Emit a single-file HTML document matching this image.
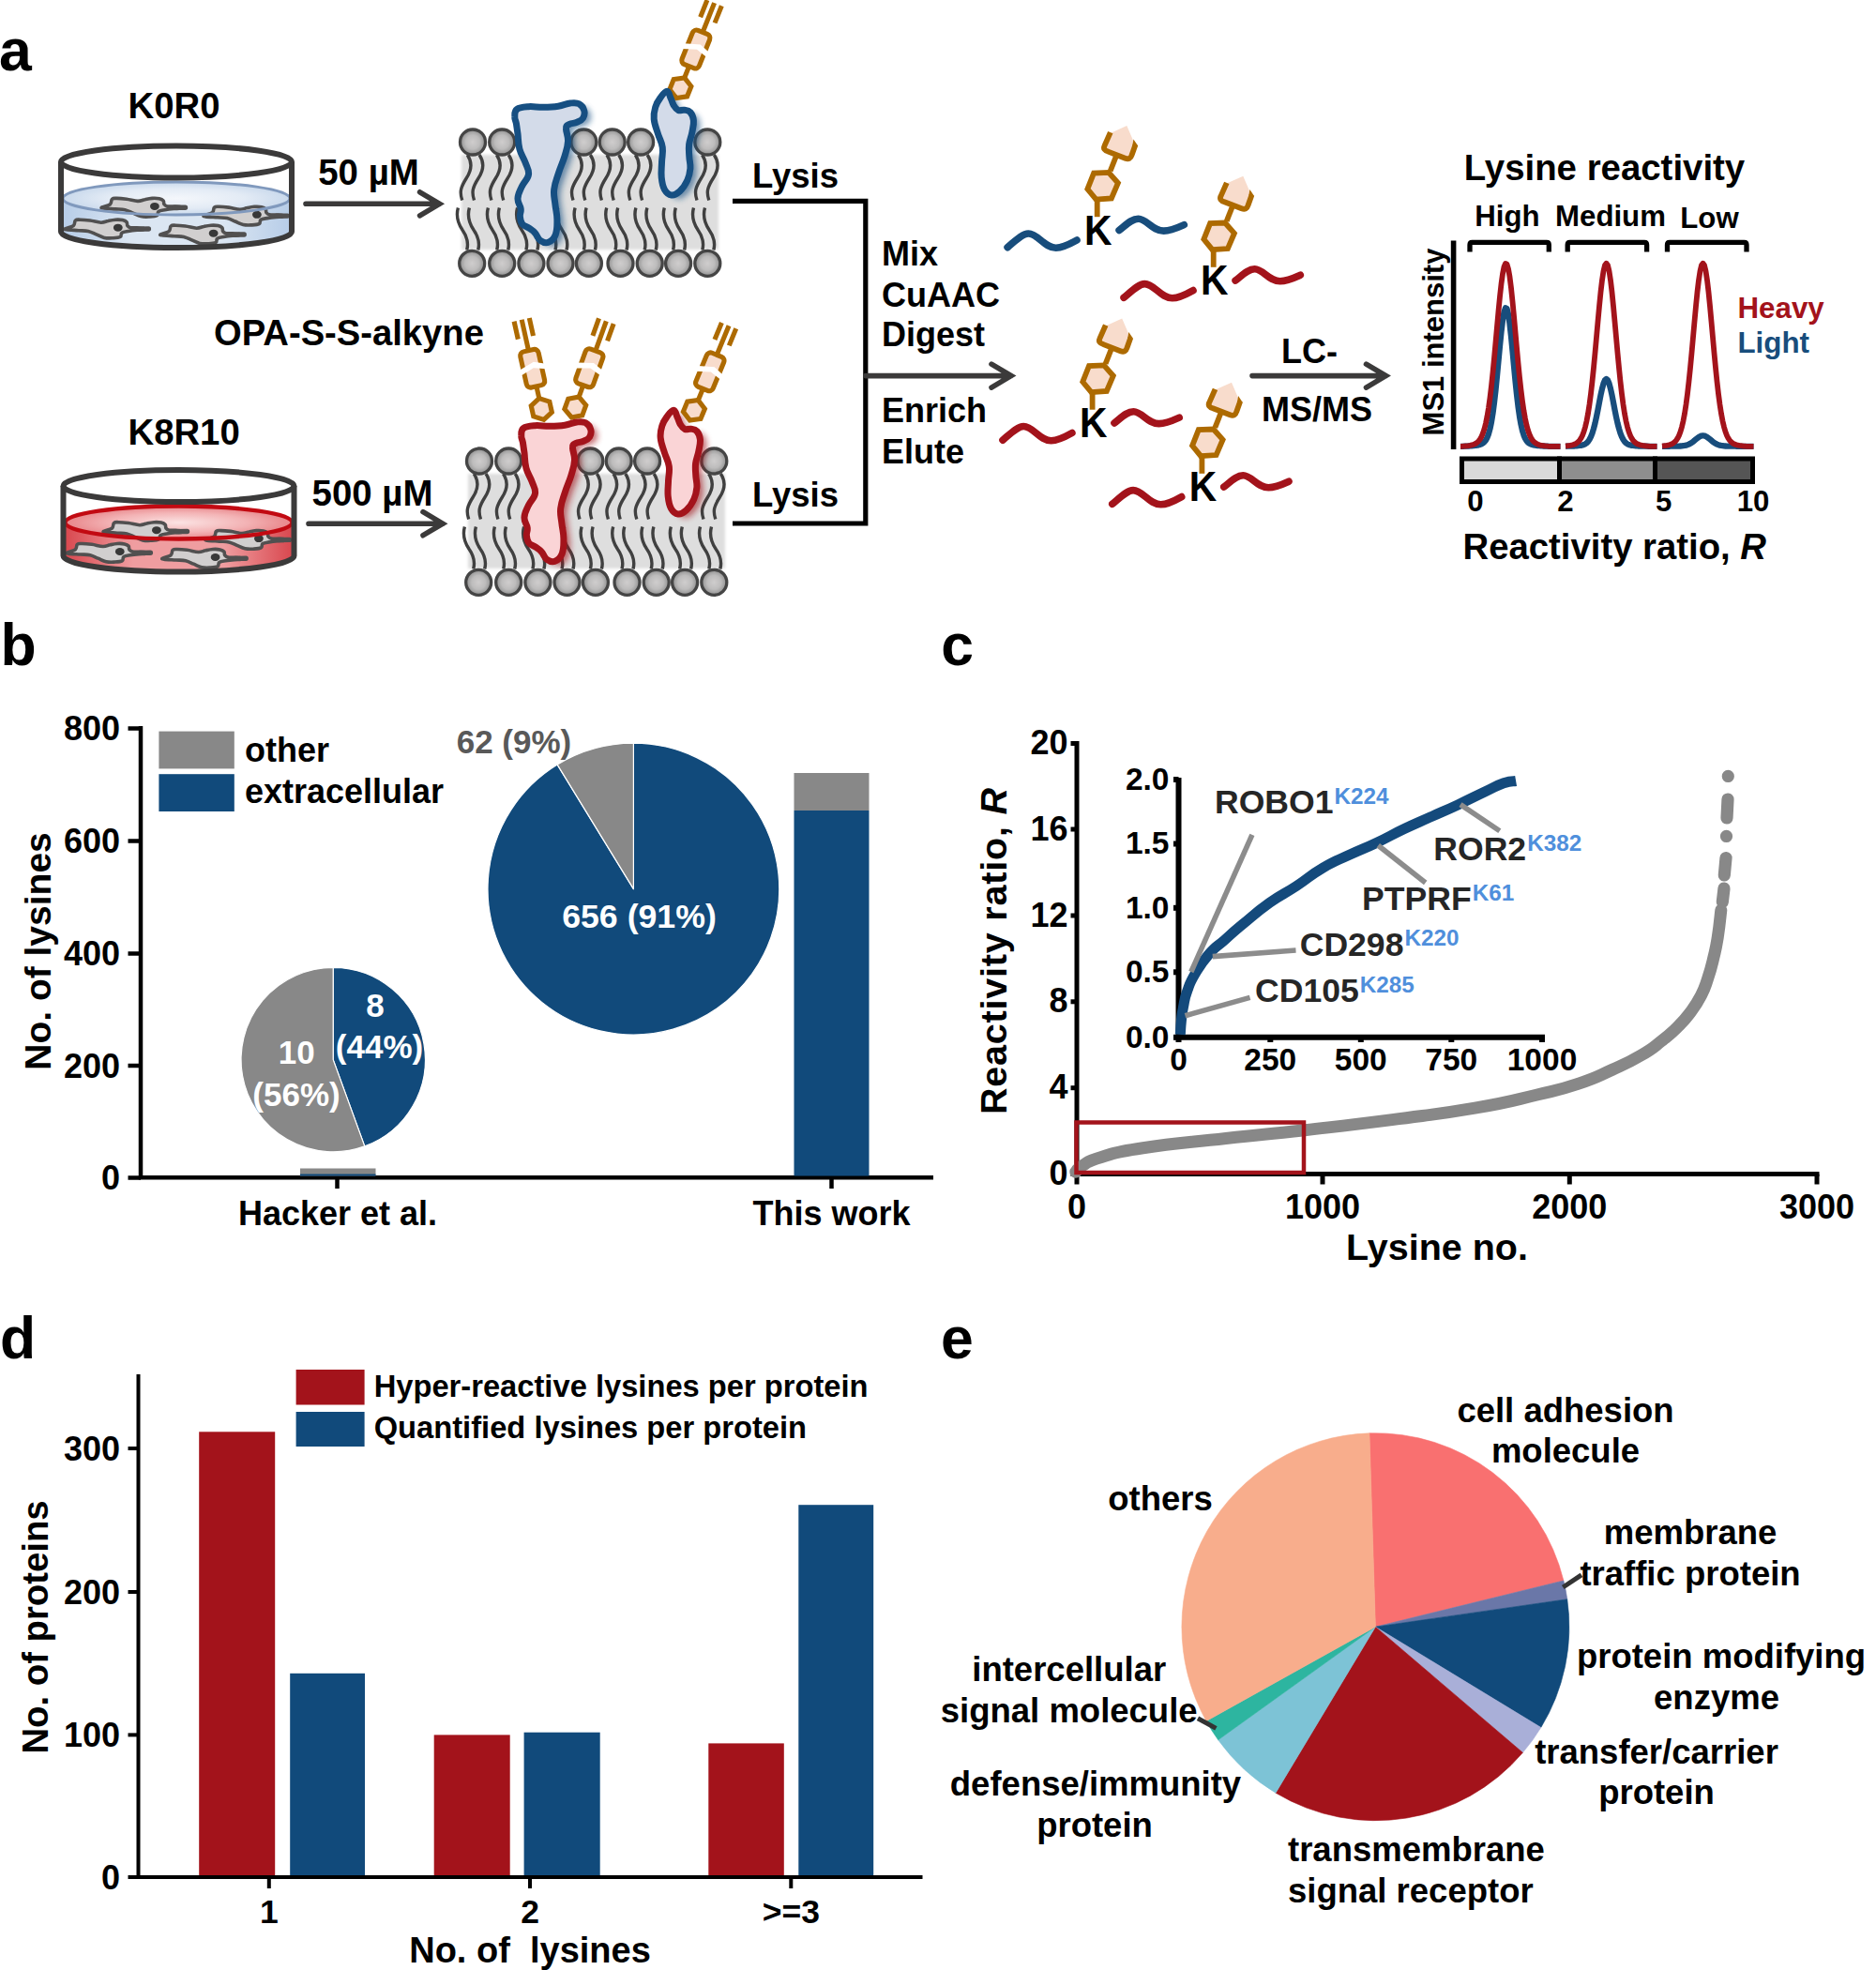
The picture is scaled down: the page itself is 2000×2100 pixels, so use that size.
<!DOCTYPE html>
<html lang="en"><head><meta charset="utf-8"><title>Figure</title>
<style>
html,body{margin:0;padding:0;background:#fff}
svg{display:block}
text{font-family:"Liberation Sans",sans-serif;font-weight:bold}
</style></head><body>
<svg width="2000" height="2100" viewBox="0 0 2000 2100">
<defs>
<radialGradient id="hg" cx="50%" cy="50%" r="50%"><stop offset="0" stop-color="#cfcdcd"/><stop offset="0.55" stop-color="#bdbcbc"/><stop offset="1" stop-color="#8f8f8f"/></radialGradient>
<radialGradient id="surfB" cx="50%" cy="50%" r="50%"><stop offset="0" stop-color="#f4f7fb"/><stop offset="0.6" stop-color="#e3ebf5"/><stop offset="1" stop-color="#c9d9ec"/></radialGradient>
<linearGradient id="bodyB" x1="0" x2="1" y1="0" y2="0"><stop offset="0" stop-color="#b7cde8"/><stop offset="0.3" stop-color="#dbe6f2"/><stop offset="0.7" stop-color="#dbe6f2"/><stop offset="1" stop-color="#b7cde8"/></linearGradient>
<radialGradient id="surfR" cx="50%" cy="50%" r="50%"><stop offset="0" stop-color="#fbe3e3"/><stop offset="0.6" stop-color="#f3b3b5"/><stop offset="1" stop-color="#e8868a"/></radialGradient>
<linearGradient id="bodyR" x1="0" x2="1" y1="0" y2="0"><stop offset="0" stop-color="#d9484f"/><stop offset="0.3" stop-color="#ef9da0"/><stop offset="0.7" stop-color="#ef9da0"/><stop offset="1" stop-color="#d9484f"/></linearGradient>
<filter id="blur3" x="-30%" y="-30%" width="160%" height="160%"><feGaussianBlur stdDeviation="3"/></filter>
<filter id="blur2" x="-10%" y="-10%" width="120%" height="120%"><feGaussianBlur stdDeviation="1.6"/></filter>
<g id="cell">
<path d="M-56.0,1.0 C-54.7,0.2 -49.4,-0.5 -47.5,-2.1 C-45.6,-3.7 -46.7,-6.5 -45.4,-7.7 C-44.1,-8.9 -43.1,-8.5 -40.3,-8.5 C-37.5,-8.5 -34.1,-8.2 -30.0,-7.7 C-25.9,-7.2 -21.7,-5.6 -18.1,-5.5 C-14.5,-5.4 -13.2,-6.7 -10.4,-7.2 C-7.6,-7.8 -5.5,-8.3 -2.7,-8.5 C0.1,-8.7 2.7,-8.6 4.9,-8.1 C7.1,-7.6 8.2,-7.1 9.2,-6.0 C10.2,-4.9 9.3,-3.2 10.1,-2.1 C10.9,-1.0 11.6,-0.4 13.5,0.0 C15.4,0.4 17.8,0.1 20.3,0.2 C22.8,0.3 25.8,0.2 27.0,0.6 C28.2,1.0 28.2,1.8 27.0,2.2 C25.8,2.6 23.3,2.3 20.3,2.6 C17.3,2.9 13.9,3.3 10.9,3.8 C7.9,4.3 5.7,4.4 4.1,5.5 C2.5,6.6 4.3,8.8 2.4,9.8 C0.5,10.8 -3.0,10.9 -6.1,11.1 C-9.2,11.3 -11.6,11.4 -14.7,10.7 C-17.8,10.0 -20.1,8.5 -23.2,7.2 C-26.3,5.9 -28.3,4.6 -31.7,3.8 C-35.1,3.0 -37.8,3.3 -42.0,3.0 C-46.2,2.7 -52.2,2.5 -54.8,2.1 C-57.4,1.7 -57.3,1.8 -56.0,1.0Z" fill="#d1cfcf" stroke="#515050" stroke-width="3.6" stroke-linejoin="round"/>
<path d="M21,1.4 L32.6,1.3" stroke="#515050" stroke-width="5.4" stroke-linecap="round" fill="none"/>
<ellipse cx="0" cy="0" rx="4.9" ry="4" fill="#383838"/>
</g>
<g id="probe" fill="none" stroke="#ad6a00" stroke-width="5.1">
<path d="M0,-10.7 L0,-25 M0,-63 L0,-97.5 M-8.3,-78 L-8.3,-97.5 M8.3,-78 L8.3,-97.5"/>
<polygon points="0,-11.6 10.05,-5.8 10.05,5.8 0,11.6 -10.05,5.8 -10.05,-5.8" fill="#f8dccc" stroke-linejoin="miter"/>
<rect x="-9.9" y="-63.8" width="19.8" height="39" rx="4.5" ry="4.5" fill="#f8dccc"/>
<polygon points="-14,-45.4 2.6,-50.9 15,-46.2 15,-40.5 1.1,-44.5 -14,-39.2" fill="#fff" stroke="none"/>
</g>
<g id="tag" stroke="#ad6a00" stroke-width="5.8" fill="none">
<path d="M-1.8,-29.5 L-1.8,-47"/>
<path d="M12.2,-78.5 L18.3,-94"/>
<polygon points="-3,-48.1 13.4,-49.2 20.4,-65.6 10.5,-76.8 -5.4,-76.2 -12.1,-59.2" fill="#f8dccc" stroke-linejoin="miter"/>
<path d="M12.8,-119 L29.8,-126.6 L38.6,-106.1 L35.1,-95.5 Q33.5,-90 28.1,-92 L9.9,-99.1 Q4,-101.5 5.5,-104.6 Z" fill="#f8dccc" stroke="none"/>
<path d="M12.3,-119.5 L5.9,-105 Q4,-101 9.9,-99.1 L28.1,-92 Q33.5,-90 35.1,-95.5 L39,-106.5" stroke-linejoin="round"/>
<polygon points="41.6,-105.4 36.9,-112.2 35.9,-106" fill="#ad6a00" stroke="none"/>
</g>
</defs>
<text x="-1" y="74.5" font-size="62.5" text-anchor="start" fill="#000" >a</text>
<text x="0.5" y="709" font-size="62.5" text-anchor="start" fill="#000" >b</text>
<text x="1003.3" y="709.4" font-size="62.5" text-anchor="start" fill="#000" >c</text>
<text x="0" y="1448" font-size="62.5" text-anchor="start" fill="#000" >d</text>
<text x="1003" y="1448" font-size="62.5" text-anchor="start" fill="#000" >e</text>
<path d="M67,211.5 A121,17.5 0 0 1 309,211.5 L309,247.0 A121,17 0 0 1 67,247.0 Z" fill="url(#bodyB)"/>
<ellipse cx="188" cy="211.5" rx="121" ry="17.5" fill="url(#surfB)"/>
<use href="#cell" x="164.9" y="219.9"/>
<use href="#cell" x="273.9" y="228.8"/>
<use href="#cell" x="125.8" y="242.7"/>
<use href="#cell" x="227.6" y="248.7"/>
<ellipse cx="188" cy="211.5" rx="121" ry="17.5" fill="none" stroke="#8099bd" stroke-width="3"/>
<path d="M65,172.5 L65,247.0 A123,17 0 0 0 311,247.0 L311,172.5" fill="none" stroke="#3b3a3a" stroke-width="6" stroke-linejoin="round"/>
<ellipse cx="188" cy="172.5" rx="123" ry="17" fill="none" stroke="#3b3a3a" stroke-width="6"/>
<path d="M69.5,557 A121,17.5 0 0 1 311.5,557 L311.5,592.5 A121,17 0 0 1 69.5,592.5 Z" fill="url(#bodyR)"/>
<ellipse cx="190.5" cy="557" rx="121" ry="17.5" fill="url(#surfR)"/>
<use href="#cell" x="166.9" y="565.2"/>
<use href="#cell" x="275.9" y="574.1"/>
<use href="#cell" x="127.8" y="588.0"/>
<use href="#cell" x="229.6" y="594.0"/>
<ellipse cx="190.5" cy="557" rx="121" ry="17.5" fill="none" stroke="#c20a12" stroke-width="4.3"/>
<path d="M67.5,518 L67.5,592.5 A123,17 0 0 0 313.5,592.5 L313.5,518" fill="none" stroke="#3b3a3a" stroke-width="6" stroke-linejoin="round"/>
<ellipse cx="190.5" cy="518" rx="123" ry="17" fill="none" stroke="#3b3a3a" stroke-width="6"/>
<text x="185.5" y="125.5" font-size="38.3" text-anchor="middle" fill="#000" >K0R0</text>
<text x="136.5" y="473.5" font-size="38.3" text-anchor="start" fill="#000" >K8R10</text>
<text x="393" y="196.5" font-size="38.4" text-anchor="middle" fill="#000" >50 µM</text>
<text x="397" y="539" font-size="38.4" text-anchor="middle" fill="#000" >500 µM</text>
<text x="228" y="368" font-size="38.2" text-anchor="start" fill="#000" >OPA-S-S-alkyne</text>
<path d="M326,217.3 L468.6,217.3 M447.6,204.8 L468.6,217.3 L447.6,229.8" fill="none" stroke="#3b3a3a" stroke-width="5.6" stroke-linecap="round" stroke-linejoin="miter"/>
<path d="M329,558.2 L472,558.2 M451,545.7 L472,558.2 L451,570.7" fill="none" stroke="#3b3a3a" stroke-width="5.6" stroke-linecap="round" stroke-linejoin="miter"/>
<rect x="492" y="165" width="274" height="101" fill="#dedede" filter="url(#blur2)"/>
<path d="M498.2,165.0 c5.5,8 5,16 -1,25 c-6,9.5 -7.5,14.5 -4.5,23.5 M511.0,165.0 c5.5,8 5,16 -1,25 c-6,9.5 -7.5,14.5 -4.5,23.5 M529.4,165.0 c5.5,8 5,16 -1,25 c-6,9.5 -7.5,14.5 -4.5,23.5 M542.2,165.0 c5.5,8 5,16 -1,25 c-6,9.5 -7.5,14.5 -4.5,23.5 M616.5,165.0 c5.5,8 5,16 -1,25 c-6,9.5 -7.5,14.5 -4.5,23.5 M629.3,165.0 c5.5,8 5,16 -1,25 c-6,9.5 -7.5,14.5 -4.5,23.5 M646.9,165.0 c5.5,8 5,16 -1,25 c-6,9.5 -7.5,14.5 -4.5,23.5 M659.7,165.0 c5.5,8 5,16 -1,25 c-6,9.5 -7.5,14.5 -4.5,23.5 M677.3,165.0 c5.5,8 5,16 -1,25 c-6,9.5 -7.5,14.5 -4.5,23.5 M690.1,165.0 c5.5,8 5,16 -1,25 c-6,9.5 -7.5,14.5 -4.5,23.5 M748.5,165.0 c5.5,8 5,16 -1,25 c-6,9.5 -7.5,14.5 -4.5,23.5 M761.3,165.0 c5.5,8 5,16 -1,25 c-6,9.5 -7.5,14.5 -4.5,23.5 M497.7,266.5 c2,-7.5 0.5,-14 -4.8,-21.5 c-5,-7.5 -7,-14.5 -4.5,-23.5 M509.7,266.5 c2,-7.5 0.5,-14 -4.8,-21.5 c-5,-7.5 -7,-14.5 -4.5,-23.5 M529.7,266.5 c2,-7.5 0.5,-14 -4.8,-21.5 c-5,-7.5 -7,-14.5 -4.5,-23.5 M541.7,266.5 c2,-7.5 0.5,-14 -4.8,-21.5 c-5,-7.5 -7,-14.5 -4.5,-23.5 M560.9,266.5 c2,-7.5 0.5,-14 -4.8,-21.5 c-5,-7.5 -7,-14.5 -4.5,-23.5 M572.9,266.5 c2,-7.5 0.5,-14 -4.8,-21.5 c-5,-7.5 -7,-14.5 -4.5,-23.5 M592.0,266.5 c2,-7.5 0.5,-14 -4.8,-21.5 c-5,-7.5 -7,-14.5 -4.5,-23.5 M604.0,266.5 c2,-7.5 0.5,-14 -4.8,-21.5 c-5,-7.5 -7,-14.5 -4.5,-23.5 M622.4,266.5 c2,-7.5 0.5,-14 -4.8,-21.5 c-5,-7.5 -7,-14.5 -4.5,-23.5 M634.4,266.5 c2,-7.5 0.5,-14 -4.8,-21.5 c-5,-7.5 -7,-14.5 -4.5,-23.5 M656.0,266.5 c2,-7.5 0.5,-14 -4.8,-21.5 c-5,-7.5 -7,-14.5 -4.5,-23.5 M668.0,266.5 c2,-7.5 0.5,-14 -4.8,-21.5 c-5,-7.5 -7,-14.5 -4.5,-23.5 M687.2,266.5 c2,-7.5 0.5,-14 -4.8,-21.5 c-5,-7.5 -7,-14.5 -4.5,-23.5 M699.2,266.5 c2,-7.5 0.5,-14 -4.8,-21.5 c-5,-7.5 -7,-14.5 -4.5,-23.5 M717.6,266.5 c2,-7.5 0.5,-14 -4.8,-21.5 c-5,-7.5 -7,-14.5 -4.5,-23.5 M729.6,266.5 c2,-7.5 0.5,-14 -4.8,-21.5 c-5,-7.5 -7,-14.5 -4.5,-23.5 M748.8,266.5 c2,-7.5 0.5,-14 -4.8,-21.5 c-5,-7.5 -7,-14.5 -4.5,-23.5 M760.8,266.5 c2,-7.5 0.5,-14 -4.8,-21.5 c-5,-7.5 -7,-14.5 -4.5,-23.5" fill="none" stroke="#404040" stroke-width="3.4"/>
<circle cx="504.0" cy="151.5" r="13.5" fill="url(#hg)" stroke="#454545" stroke-width="3.3"/>
<circle cx="535.2" cy="151.5" r="13.5" fill="url(#hg)" stroke="#454545" stroke-width="3.3"/>
<circle cx="622.3" cy="151.5" r="13.5" fill="url(#hg)" stroke="#454545" stroke-width="3.3"/>
<circle cx="652.7" cy="151.5" r="13.5" fill="url(#hg)" stroke="#454545" stroke-width="3.3"/>
<circle cx="683.1" cy="151.5" r="13.5" fill="url(#hg)" stroke="#454545" stroke-width="3.3"/>
<circle cx="754.3" cy="151.5" r="13.5" fill="url(#hg)" stroke="#454545" stroke-width="3.3"/>
<circle cx="503.2" cy="280.8" r="13.5" fill="url(#hg)" stroke="#454545" stroke-width="3.3"/>
<circle cx="535.2" cy="280.8" r="13.5" fill="url(#hg)" stroke="#454545" stroke-width="3.3"/>
<circle cx="566.4" cy="280.8" r="13.5" fill="url(#hg)" stroke="#454545" stroke-width="3.3"/>
<circle cx="597.5" cy="280.8" r="13.5" fill="url(#hg)" stroke="#454545" stroke-width="3.3"/>
<circle cx="627.9" cy="280.8" r="13.5" fill="url(#hg)" stroke="#454545" stroke-width="3.3"/>
<circle cx="661.5" cy="280.8" r="13.5" fill="url(#hg)" stroke="#454545" stroke-width="3.3"/>
<circle cx="692.7" cy="280.8" r="13.5" fill="url(#hg)" stroke="#454545" stroke-width="3.3"/>
<circle cx="723.1" cy="280.8" r="13.5" fill="url(#hg)" stroke="#454545" stroke-width="3.3"/>
<circle cx="754.3" cy="280.8" r="13.5" fill="url(#hg)" stroke="#454545" stroke-width="3.3"/>
<path d="M548.8,124.4 C548.9,121.2 548.2,118.6 551.2,116.4 C554.1,114.2 557.4,114.1 563.2,113.7 C568.9,113.2 572.5,114.4 579.2,114.3 C585.8,114.2 589.2,114.1 595.1,113.2 C601.1,112.3 603.3,110.5 607.9,110.0 C612.6,109.5 614.5,109.1 617.5,110.8 C620.6,112.4 622.0,114.8 622.8,118.0 C623.6,121.1 623.1,123.4 621.5,126.0 C619.9,128.5 618.1,129.0 615.1,130.3 C612.2,131.6 609.6,131.1 607.1,132.4 C604.7,133.6 603.8,132.6 603.5,136.4 C603.1,140.2 605.9,144.5 605.5,150.8 C605.2,157.1 603.9,159.8 601.9,166.8 C599.8,173.7 597.8,177.1 595.5,184.4 C593.2,191.6 591.4,195.0 590.7,201.9 C589.9,208.9 591.3,211.3 591.9,217.9 C592.6,224.5 593.8,227.3 593.9,233.9 C593.9,240.5 594.2,244.9 592.3,249.9 C590.4,254.9 588.1,256.9 584.7,258.2 C581.4,259.6 578.9,258.4 576.0,256.3 C573.0,254.3 572.8,251.0 570.4,248.3 C567.9,245.6 566.8,245.2 564.0,243.2 C561.2,241.2 558.7,241.3 556.8,238.7 C554.8,236.2 554.7,234.0 554.4,230.7 C554.0,227.4 555.7,226.7 555.2,222.7 C554.7,218.8 551.7,216.5 552.0,211.5 C552.2,206.6 554.1,204.0 556.4,198.7 C558.8,193.5 562.8,191.2 563.5,186.0 C564.2,180.7 561.9,178.8 560.0,173.2 C558.0,167.5 555.5,165.0 553.9,158.8 C552.2,152.5 552.7,148.4 552.0,142.8 C551.2,137.2 551.0,135.4 550.4,131.6 C549.7,127.8 548.6,127.5 548.8,124.4Z" transform="translate(7,4)" fill="#164f82" opacity="0.6" filter="url(#blur3)"/>
<path d="M711.1,97.2 C708.8,97.1 706.4,100.9 703.9,104.4 C701.3,107.9 700.2,109.4 698.8,114.0 C697.4,118.6 696.6,120.8 697.2,126.8 C697.7,132.7 699.6,136.5 701.5,142.8 C703.4,149.1 705.5,150.9 706.3,157.2 C707.1,163.4 705.7,166.5 705.5,173.2 C705.3,179.8 704.6,183.2 705.2,189.2 C705.8,195.1 706.2,198.1 708.4,201.9 C710.6,205.8 712.5,207.5 715.9,207.9 C719.3,208.3 721.2,207.1 724.7,203.9 C728.2,200.7 730.4,197.4 732.7,192.4 C735.0,187.3 735.4,184.8 735.9,179.6 C736.3,174.3 735.0,172.1 734.8,166.8 C734.5,161.5 734.0,159.3 734.6,154.0 C735.2,148.7 736.8,146.5 737.8,141.2 C738.8,135.9 739.8,132.8 739.4,128.4 C739.0,123.9 737.9,121.9 735.9,119.6 C733.8,117.3 732.1,117.6 729.5,117.2 C726.8,116.8 725.4,118.5 723.1,117.5 C720.8,116.5 719.9,115.0 718.3,112.4 C716.6,109.7 716.6,107.9 715.1,104.7 C713.6,101.6 713.4,97.3 711.1,97.2Z" transform="translate(7,4)" fill="#164f82" opacity="0.6" filter="url(#blur3)"/>
<use href="#probe" transform="translate(725.4,93.7) rotate(21.8)"/>
<path d="M548.8,124.4 C548.9,121.2 548.2,118.6 551.2,116.4 C554.1,114.2 557.4,114.1 563.2,113.7 C568.9,113.2 572.5,114.4 579.2,114.3 C585.8,114.2 589.2,114.1 595.1,113.2 C601.1,112.3 603.3,110.5 607.9,110.0 C612.6,109.5 614.5,109.1 617.5,110.8 C620.6,112.4 622.0,114.8 622.8,118.0 C623.6,121.1 623.1,123.4 621.5,126.0 C619.9,128.5 618.1,129.0 615.1,130.3 C612.2,131.6 609.6,131.1 607.1,132.4 C604.7,133.6 603.8,132.6 603.5,136.4 C603.1,140.2 605.9,144.5 605.5,150.8 C605.2,157.1 603.9,159.8 601.9,166.8 C599.8,173.7 597.8,177.1 595.5,184.4 C593.2,191.6 591.4,195.0 590.7,201.9 C589.9,208.9 591.3,211.3 591.9,217.9 C592.6,224.5 593.8,227.3 593.9,233.9 C593.9,240.5 594.2,244.9 592.3,249.9 C590.4,254.9 588.1,256.9 584.7,258.2 C581.4,259.6 578.9,258.4 576.0,256.3 C573.0,254.3 572.8,251.0 570.4,248.3 C567.9,245.6 566.8,245.2 564.0,243.2 C561.2,241.2 558.7,241.3 556.8,238.7 C554.8,236.2 554.7,234.0 554.4,230.7 C554.0,227.4 555.7,226.7 555.2,222.7 C554.7,218.8 551.7,216.5 552.0,211.5 C552.2,206.6 554.1,204.0 556.4,198.7 C558.8,193.5 562.8,191.2 563.5,186.0 C564.2,180.7 561.9,178.8 560.0,173.2 C558.0,167.5 555.5,165.0 553.9,158.8 C552.2,152.5 552.7,148.4 552.0,142.8 C551.2,137.2 551.0,135.4 550.4,131.6 C549.7,127.8 548.6,127.5 548.8,124.4Z" fill="#d3dbe9" stroke="#164f82" stroke-width="7" stroke-linejoin="round"/>
<path d="M711.1,97.2 C708.8,97.1 706.4,100.9 703.9,104.4 C701.3,107.9 700.2,109.4 698.8,114.0 C697.4,118.6 696.6,120.8 697.2,126.8 C697.7,132.7 699.6,136.5 701.5,142.8 C703.4,149.1 705.5,150.9 706.3,157.2 C707.1,163.4 705.7,166.5 705.5,173.2 C705.3,179.8 704.6,183.2 705.2,189.2 C705.8,195.1 706.2,198.1 708.4,201.9 C710.6,205.8 712.5,207.5 715.9,207.9 C719.3,208.3 721.2,207.1 724.7,203.9 C728.2,200.7 730.4,197.4 732.7,192.4 C735.0,187.3 735.4,184.8 735.9,179.6 C736.3,174.3 735.0,172.1 734.8,166.8 C734.5,161.5 734.0,159.3 734.6,154.0 C735.2,148.7 736.8,146.5 737.8,141.2 C738.8,135.9 739.8,132.8 739.4,128.4 C739.0,123.9 737.9,121.9 735.9,119.6 C733.8,117.3 732.1,117.6 729.5,117.2 C726.8,116.8 725.4,118.5 723.1,117.5 C720.8,116.5 719.9,115.0 718.3,112.4 C716.6,109.7 716.6,107.9 715.1,104.7 C713.6,101.6 713.4,97.3 711.1,97.2Z" fill="#d3dbe9" stroke="#164f82" stroke-width="7" stroke-linejoin="round"/>
<rect x="499" y="505" width="274" height="101" fill="#dedede" filter="url(#blur2)"/>
<path d="M505.2,505.0 c5.5,8 5,16 -1,25 c-6,9.5 -7.5,14.5 -4.5,23.5 M518.0,505.0 c5.5,8 5,16 -1,25 c-6,9.5 -7.5,14.5 -4.5,23.5 M536.4,505.0 c5.5,8 5,16 -1,25 c-6,9.5 -7.5,14.5 -4.5,23.5 M549.2,505.0 c5.5,8 5,16 -1,25 c-6,9.5 -7.5,14.5 -4.5,23.5 M623.5,505.0 c5.5,8 5,16 -1,25 c-6,9.5 -7.5,14.5 -4.5,23.5 M636.3,505.0 c5.5,8 5,16 -1,25 c-6,9.5 -7.5,14.5 -4.5,23.5 M653.9,505.0 c5.5,8 5,16 -1,25 c-6,9.5 -7.5,14.5 -4.5,23.5 M666.7,505.0 c5.5,8 5,16 -1,25 c-6,9.5 -7.5,14.5 -4.5,23.5 M684.3,505.0 c5.5,8 5,16 -1,25 c-6,9.5 -7.5,14.5 -4.5,23.5 M697.1,505.0 c5.5,8 5,16 -1,25 c-6,9.5 -7.5,14.5 -4.5,23.5 M755.5,505.0 c5.5,8 5,16 -1,25 c-6,9.5 -7.5,14.5 -4.5,23.5 M768.3,505.0 c5.5,8 5,16 -1,25 c-6,9.5 -7.5,14.5 -4.5,23.5 M504.7,606.5 c2,-7.5 0.5,-14 -4.8,-21.5 c-5,-7.5 -7,-14.5 -4.5,-23.5 M516.7,606.5 c2,-7.5 0.5,-14 -4.8,-21.5 c-5,-7.5 -7,-14.5 -4.5,-23.5 M536.7,606.5 c2,-7.5 0.5,-14 -4.8,-21.5 c-5,-7.5 -7,-14.5 -4.5,-23.5 M548.7,606.5 c2,-7.5 0.5,-14 -4.8,-21.5 c-5,-7.5 -7,-14.5 -4.5,-23.5 M567.9,606.5 c2,-7.5 0.5,-14 -4.8,-21.5 c-5,-7.5 -7,-14.5 -4.5,-23.5 M579.9,606.5 c2,-7.5 0.5,-14 -4.8,-21.5 c-5,-7.5 -7,-14.5 -4.5,-23.5 M599.0,606.5 c2,-7.5 0.5,-14 -4.8,-21.5 c-5,-7.5 -7,-14.5 -4.5,-23.5 M611.0,606.5 c2,-7.5 0.5,-14 -4.8,-21.5 c-5,-7.5 -7,-14.5 -4.5,-23.5 M629.4,606.5 c2,-7.5 0.5,-14 -4.8,-21.5 c-5,-7.5 -7,-14.5 -4.5,-23.5 M641.4,606.5 c2,-7.5 0.5,-14 -4.8,-21.5 c-5,-7.5 -7,-14.5 -4.5,-23.5 M663.0,606.5 c2,-7.5 0.5,-14 -4.8,-21.5 c-5,-7.5 -7,-14.5 -4.5,-23.5 M675.0,606.5 c2,-7.5 0.5,-14 -4.8,-21.5 c-5,-7.5 -7,-14.5 -4.5,-23.5 M694.2,606.5 c2,-7.5 0.5,-14 -4.8,-21.5 c-5,-7.5 -7,-14.5 -4.5,-23.5 M706.2,606.5 c2,-7.5 0.5,-14 -4.8,-21.5 c-5,-7.5 -7,-14.5 -4.5,-23.5 M724.6,606.5 c2,-7.5 0.5,-14 -4.8,-21.5 c-5,-7.5 -7,-14.5 -4.5,-23.5 M736.6,606.5 c2,-7.5 0.5,-14 -4.8,-21.5 c-5,-7.5 -7,-14.5 -4.5,-23.5 M755.8,606.5 c2,-7.5 0.5,-14 -4.8,-21.5 c-5,-7.5 -7,-14.5 -4.5,-23.5 M767.8,606.5 c2,-7.5 0.5,-14 -4.8,-21.5 c-5,-7.5 -7,-14.5 -4.5,-23.5" fill="none" stroke="#404040" stroke-width="3.4"/>
<circle cx="511.0" cy="491.5" r="13.5" fill="url(#hg)" stroke="#454545" stroke-width="3.3"/>
<circle cx="542.2" cy="491.5" r="13.5" fill="url(#hg)" stroke="#454545" stroke-width="3.3"/>
<circle cx="629.3" cy="491.5" r="13.5" fill="url(#hg)" stroke="#454545" stroke-width="3.3"/>
<circle cx="659.7" cy="491.5" r="13.5" fill="url(#hg)" stroke="#454545" stroke-width="3.3"/>
<circle cx="690.1" cy="491.5" r="13.5" fill="url(#hg)" stroke="#454545" stroke-width="3.3"/>
<circle cx="761.3" cy="491.5" r="13.5" fill="url(#hg)" stroke="#454545" stroke-width="3.3"/>
<circle cx="510.2" cy="620.8" r="13.5" fill="url(#hg)" stroke="#454545" stroke-width="3.3"/>
<circle cx="542.2" cy="620.8" r="13.5" fill="url(#hg)" stroke="#454545" stroke-width="3.3"/>
<circle cx="573.4" cy="620.8" r="13.5" fill="url(#hg)" stroke="#454545" stroke-width="3.3"/>
<circle cx="604.5" cy="620.8" r="13.5" fill="url(#hg)" stroke="#454545" stroke-width="3.3"/>
<circle cx="634.9" cy="620.8" r="13.5" fill="url(#hg)" stroke="#454545" stroke-width="3.3"/>
<circle cx="668.5" cy="620.8" r="13.5" fill="url(#hg)" stroke="#454545" stroke-width="3.3"/>
<circle cx="699.7" cy="620.8" r="13.5" fill="url(#hg)" stroke="#454545" stroke-width="3.3"/>
<circle cx="730.1" cy="620.8" r="13.5" fill="url(#hg)" stroke="#454545" stroke-width="3.3"/>
<circle cx="761.3" cy="620.8" r="13.5" fill="url(#hg)" stroke="#454545" stroke-width="3.3"/>
<path d="M555.8,464.4 C555.9,461.2 555.2,458.6 558.2,456.4 C561.1,454.2 564.4,454.1 570.2,453.7 C575.9,453.2 579.5,454.4 586.2,454.3 C592.8,454.2 596.2,454.1 602.1,453.2 C608.1,452.3 610.3,450.5 614.9,450.0 C619.6,449.5 621.5,449.1 624.5,450.8 C627.6,452.4 629.0,454.8 629.8,458.0 C630.6,461.1 630.1,463.4 628.5,466.0 C626.9,468.5 625.1,469.0 622.1,470.3 C619.2,471.6 616.6,471.1 614.1,472.4 C611.7,473.6 610.8,472.6 610.5,476.4 C610.1,480.2 612.9,484.5 612.5,490.8 C612.2,497.1 610.9,499.8 608.9,506.8 C606.8,513.7 604.8,517.1 602.5,524.4 C600.2,531.6 598.4,535.0 597.7,541.9 C596.9,548.9 598.3,551.3 598.9,557.9 C599.6,564.5 600.8,567.3 600.9,573.9 C600.9,580.5 601.2,584.9 599.3,589.9 C597.4,594.9 595.1,596.9 591.7,598.2 C588.4,599.6 585.9,598.4 583.0,596.3 C580.0,594.3 579.8,591.0 577.4,588.3 C574.9,585.6 573.8,585.2 571.0,583.2 C568.2,581.2 565.7,581.3 563.8,578.7 C561.8,576.2 561.7,574.0 561.4,570.7 C561.0,567.4 562.7,566.7 562.2,562.7 C561.7,558.8 558.7,556.5 559.0,551.5 C559.2,546.6 561.1,544.0 563.4,538.7 C565.8,533.5 569.8,531.2 570.5,526.0 C571.2,520.7 568.9,518.8 567.0,513.2 C565.0,507.5 562.5,505.0 560.9,498.8 C559.2,492.5 559.7,488.4 559.0,482.8 C558.2,477.2 558.0,475.4 557.4,471.6 C556.7,467.8 555.6,467.5 555.8,464.4Z" transform="translate(7,4)" fill="#a3131b" opacity="0.6" filter="url(#blur3)"/>
<path d="M718.1,437.2 C715.8,437.1 713.4,440.9 710.9,444.4 C708.3,447.9 707.2,449.4 705.8,454.0 C704.4,458.6 703.6,460.8 704.2,466.8 C704.7,472.7 706.6,476.5 708.5,482.8 C710.4,489.1 712.5,490.9 713.3,497.2 C714.1,503.4 712.7,506.5 712.5,513.2 C712.3,519.8 711.6,523.2 712.2,529.2 C712.8,535.1 713.2,538.1 715.4,541.9 C717.6,545.8 719.5,547.5 722.9,547.9 C726.3,548.3 728.2,547.1 731.7,543.9 C735.2,540.7 737.4,537.4 739.7,532.4 C742.0,527.3 742.4,524.8 742.9,519.6 C743.3,514.3 742.0,512.1 741.8,506.8 C741.5,501.5 741.0,499.3 741.6,494.0 C742.2,488.7 743.8,486.5 744.8,481.2 C745.8,475.9 746.8,472.8 746.4,468.4 C746.0,463.9 744.9,461.9 742.9,459.6 C740.8,457.3 739.1,457.6 736.5,457.2 C733.8,456.8 732.4,458.5 730.1,457.5 C727.8,456.5 726.9,455.0 725.3,452.4 C723.6,449.7 723.6,447.9 722.1,444.7 C720.6,441.6 720.4,437.3 718.1,437.2Z" transform="translate(7,4)" fill="#a3131b" opacity="0.6" filter="url(#blur3)"/>
<use href="#probe" transform="translate(577.3,436) rotate(-12.5)"/>
<use href="#probe" transform="translate(613.3,434) rotate(19.8)"/>
<use href="#probe" transform="translate(739.9,437.3) rotate(22.4)"/>
<path d="M555.8,464.4 C555.9,461.2 555.2,458.6 558.2,456.4 C561.1,454.2 564.4,454.1 570.2,453.7 C575.9,453.2 579.5,454.4 586.2,454.3 C592.8,454.2 596.2,454.1 602.1,453.2 C608.1,452.3 610.3,450.5 614.9,450.0 C619.6,449.5 621.5,449.1 624.5,450.8 C627.6,452.4 629.0,454.8 629.8,458.0 C630.6,461.1 630.1,463.4 628.5,466.0 C626.9,468.5 625.1,469.0 622.1,470.3 C619.2,471.6 616.6,471.1 614.1,472.4 C611.7,473.6 610.8,472.6 610.5,476.4 C610.1,480.2 612.9,484.5 612.5,490.8 C612.2,497.1 610.9,499.8 608.9,506.8 C606.8,513.7 604.8,517.1 602.5,524.4 C600.2,531.6 598.4,535.0 597.7,541.9 C596.9,548.9 598.3,551.3 598.9,557.9 C599.6,564.5 600.8,567.3 600.9,573.9 C600.9,580.5 601.2,584.9 599.3,589.9 C597.4,594.9 595.1,596.9 591.7,598.2 C588.4,599.6 585.9,598.4 583.0,596.3 C580.0,594.3 579.8,591.0 577.4,588.3 C574.9,585.6 573.8,585.2 571.0,583.2 C568.2,581.2 565.7,581.3 563.8,578.7 C561.8,576.2 561.7,574.0 561.4,570.7 C561.0,567.4 562.7,566.7 562.2,562.7 C561.7,558.8 558.7,556.5 559.0,551.5 C559.2,546.6 561.1,544.0 563.4,538.7 C565.8,533.5 569.8,531.2 570.5,526.0 C571.2,520.7 568.9,518.8 567.0,513.2 C565.0,507.5 562.5,505.0 560.9,498.8 C559.2,492.5 559.7,488.4 559.0,482.8 C558.2,477.2 558.0,475.4 557.4,471.6 C556.7,467.8 555.6,467.5 555.8,464.4Z" fill="#fad4d6" stroke="#a3131b" stroke-width="7" stroke-linejoin="round"/>
<path d="M718.1,437.2 C715.8,437.1 713.4,440.9 710.9,444.4 C708.3,447.9 707.2,449.4 705.8,454.0 C704.4,458.6 703.6,460.8 704.2,466.8 C704.7,472.7 706.6,476.5 708.5,482.8 C710.4,489.1 712.5,490.9 713.3,497.2 C714.1,503.4 712.7,506.5 712.5,513.2 C712.3,519.8 711.6,523.2 712.2,529.2 C712.8,535.1 713.2,538.1 715.4,541.9 C717.6,545.8 719.5,547.5 722.9,547.9 C726.3,548.3 728.2,547.1 731.7,543.9 C735.2,540.7 737.4,537.4 739.7,532.4 C742.0,527.3 742.4,524.8 742.9,519.6 C743.3,514.3 742.0,512.1 741.8,506.8 C741.5,501.5 741.0,499.3 741.6,494.0 C742.2,488.7 743.8,486.5 744.8,481.2 C745.8,475.9 746.8,472.8 746.4,468.4 C746.0,463.9 744.9,461.9 742.9,459.6 C740.8,457.3 739.1,457.6 736.5,457.2 C733.8,456.8 732.4,458.5 730.1,457.5 C727.8,456.5 726.9,455.0 725.3,452.4 C723.6,449.7 723.6,447.9 722.1,444.7 C720.6,441.6 720.4,437.3 718.1,437.2Z" fill="#fad4d6" stroke="#a3131b" stroke-width="7" stroke-linejoin="round"/>
<text x="802" y="200" font-size="36.5" text-anchor="start" fill="#000" >Lysis</text>
<text x="802" y="540" font-size="36.5" text-anchor="start" fill="#000" >Lysis</text>
<path d="M781,214.3 L922.8,214.3 L922.8,558 L781,558" fill="none" stroke="#000" stroke-width="5.2"/>
<path d="M923,400.6 L1078,400.6 M1057,388.1 L1078,400.6 L1057,413.1" fill="none" stroke="#3b3a3a" stroke-width="5.6" stroke-linecap="round" stroke-linejoin="miter"/>
<text x="940" y="283.2" font-size="36" text-anchor="start" fill="#000" >Mix</text>
<text x="940" y="326.6" font-size="36" text-anchor="start" fill="#000" >CuAAC</text>
<text x="940" y="369.4" font-size="36" text-anchor="start" fill="#000" >Digest</text>
<text x="940" y="450.3" font-size="36" text-anchor="start" fill="#000" >Enrich</text>
<text x="940" y="494.3" font-size="36" text-anchor="start" fill="#000" >Elute</text>
<g transform="translate(1171.5,260.7)">
<use href="#tag"/>
<path d="M-97.4,3 C-90,-3 -82,-11.7 -75.1,-11.7 C-65,-11.7 -58,3.5 -45.8,3.5 C-38,3.5 -30,-1 -23.5,-4.7 M21.6,-15.2 C29,-21 35,-27.5 42.1,-27.5 C51,-27.5 57,-14.6 69.1,-14.6 C77,-14.6 84,-18 90.8,-21.1" fill="none" stroke="#184d7c" stroke-width="7.6" stroke-linecap="round"/>
<text x="-0.8" y="0" font-size="44.6" text-anchor="middle" transform="scale(0.915,1)">K</text>
</g>
<g transform="translate(1295.5,314.3)">
<use href="#tag"/>
<path d="M-97.4,3 C-90,-3 -82,-11.7 -75.1,-11.7 C-65,-11.7 -58,3.5 -45.8,3.5 C-38,3.5 -30,-1 -23.5,-4.7 M21.6,-15.2 C29,-21 35,-27.5 42.1,-27.5 C51,-27.5 57,-14.6 69.1,-14.6 C77,-14.6 84,-18 90.8,-21.1" fill="none" stroke="#a3131b" stroke-width="7.6" stroke-linecap="round"/>
<text x="-0.8" y="0" font-size="44.6" text-anchor="middle" transform="scale(0.915,1)">K</text>
</g>
<g transform="translate(1166.4,466.2)">
<use href="#tag"/>
<path d="M-97.4,3 C-90,-3 -82,-11.7 -75.1,-11.7 C-65,-11.7 -58,3.5 -45.8,3.5 C-38,3.5 -30,-1 -23.5,-4.7 M21.6,-15.2 C29,-21 35,-27.5 42.1,-27.5 C51,-27.5 57,-14.6 69.1,-14.6 C77,-14.6 84,-18 90.8,-21.1" fill="none" stroke="#a3131b" stroke-width="7.6" stroke-linecap="round"/>
<text x="-0.8" y="0" font-size="44.6" text-anchor="middle" transform="scale(0.915,1)">K</text>
</g>
<g transform="translate(1283.2,534.3)">
<use href="#tag"/>
<path d="M-97.4,3 C-90,-3 -82,-11.7 -75.1,-11.7 C-65,-11.7 -58,3.5 -45.8,3.5 C-38,3.5 -30,-1 -23.5,-4.7 M21.6,-15.2 C29,-21 35,-27.5 42.1,-27.5 C51,-27.5 57,-14.6 69.1,-14.6 C77,-14.6 84,-18 90.8,-21.1" fill="none" stroke="#a3131b" stroke-width="7.6" stroke-linecap="round"/>
<text x="-0.8" y="0" font-size="44.6" text-anchor="middle" transform="scale(0.915,1)">K</text>
</g>
<text x="1396" y="387" font-size="36" text-anchor="middle" fill="#000" >LC-</text>
<text x="1404" y="448.5" font-size="36" text-anchor="middle" fill="#000" >MS/MS</text>
<path d="M1335,400.6 L1477.5,400.6 M1456.5,388.1 L1477.5,400.6 L1456.5,413.1" fill="none" stroke="#3b3a3a" stroke-width="5.6" stroke-linecap="round" stroke-linejoin="miter"/>
<text x="1710.5" y="192" font-size="38.4" text-anchor="middle" fill="#000" >Lysine reactivity</text>
<text x="1607" y="241" font-size="31.2" text-anchor="middle" fill="#000" >High</text>
<text x="1717" y="241" font-size="31.2" text-anchor="middle" fill="#000" >Medium</text>
<text x="1822.5" y="243.3" font-size="31.2" text-anchor="middle" fill="#000" >Low</text>
<path d="M1567,268.5 L1567,261 Q1567,258.3 1569.5,258.3 L1648.8,258.3 Q1651.3,258.3 1651.3,261 L1651.3,268.5" fill="none" stroke="#000" stroke-width="5.3"/>
<path d="M1671.2,268.5 L1671.2,261 Q1671.2,258.3 1673.7,258.3 L1753.1,258.3 Q1755.6,258.3 1755.6,261 L1755.6,268.5" fill="none" stroke="#000" stroke-width="5.3"/>
<path d="M1777.5,268.5 L1777.5,261 Q1777.5,258.3 1780.0,258.3 L1859.5,258.3 Q1862,258.3 1862,261 L1862,268.5" fill="none" stroke="#000" stroke-width="5.3"/>
<path d="M1549.6,256.4 L1549.6,479" stroke="#000" stroke-width="5.6"/>
<text transform="translate(1538.7,364.5) rotate(-90)" font-size="31" text-anchor="middle">MS1 intensity</text>
<path d="M1557.0,475.8 L1558.5,475.8 L1560.0,475.8 L1561.5,475.7 L1563.0,475.6 L1564.5,475.6 L1566.0,475.5 L1567.5,475.4 L1569.0,475.3 L1570.5,475.1 L1572.0,475.0 L1573.5,474.8 L1575.0,474.6 L1576.5,474.3 L1578.0,473.9 L1579.5,473.3 L1581.0,472.4 L1582.5,471.1 L1584.0,469.2 L1585.5,466.4 L1587.0,462.5 L1588.5,457.0 L1590.0,449.8 L1591.5,440.5 L1593.0,429.2 L1594.5,415.8 L1596.0,400.7 L1597.5,384.7 L1599.0,368.6 L1600.5,353.8 L1602.0,341.3 L1603.5,332.5 L1605.0,328.3 L1606.5,329.1 L1608.0,335.0 L1609.5,345.1 L1611.0,358.5 L1612.5,373.9 L1614.0,390.1 L1615.5,405.9 L1617.0,420.4 L1618.5,433.2 L1620.0,443.9 L1621.5,452.4 L1623.0,459.0 L1624.5,463.9 L1626.0,467.4 L1627.5,469.9 L1629.0,471.6 L1630.5,472.7 L1632.0,473.5 L1633.5,474.0 L1635.0,474.4 L1636.5,474.7 L1638.0,474.9 L1639.5,475.1 L1641.0,475.2 L1642.5,475.3 L1644.0,475.4 L1645.5,475.5 L1647.0,475.6 L1648.5,475.7 L1650.0,475.7 L1651.5,475.8 L1653.0,475.8 L1654.5,475.8 L1656.0,475.8 L1657.5,475.8 L1659.0,475.8 L1660.5,475.8 L1662.0,475.8 L1663.5,475.8" fill="none" stroke="#184d7c" stroke-width="6.3" stroke-linejoin="round"/>
<path d="M1557.0,475.8 L1558.5,475.8 L1560.0,475.7 L1561.5,475.6 L1563.0,475.5 L1564.5,475.3 L1566.0,475.1 L1567.5,474.8 L1569.0,474.4 L1570.5,474.0 L1572.0,473.4 L1573.5,472.6 L1575.0,471.5 L1576.5,470.0 L1578.0,468.0 L1579.5,465.3 L1581.0,461.7 L1582.5,457.1 L1584.0,451.1 L1585.5,443.7 L1587.0,434.6 L1588.5,423.8 L1590.0,411.3 L1591.5,397.1 L1593.0,381.6 L1594.5,365.1 L1596.0,348.2 L1597.5,331.7 L1599.0,316.2 L1600.5,302.7 L1602.0,291.8 L1603.5,284.4 L1605.0,280.9 L1606.5,281.6 L1608.0,286.5 L1609.5,295.1 L1611.0,306.9 L1612.5,321.2 L1614.0,337.1 L1615.5,353.9 L1617.0,370.7 L1618.5,386.9 L1620.0,402.0 L1621.5,415.6 L1623.0,427.6 L1624.5,437.8 L1626.0,446.3 L1627.5,453.3 L1629.0,458.8 L1630.5,463.0 L1632.0,466.3 L1633.5,468.8 L1635.0,470.6 L1636.5,471.9 L1638.0,472.9 L1639.5,473.6 L1641.0,474.2 L1642.5,474.6 L1644.0,474.9 L1645.5,475.1 L1647.0,475.3 L1648.5,475.5 L1650.0,475.7 L1651.5,475.8 L1653.0,475.8 L1654.5,475.8 L1656.0,475.8 L1657.5,475.8 L1659.0,475.8 L1660.5,475.8 L1662.0,475.8 L1663.5,475.8" fill="none" stroke="#a3131b" stroke-width="5.8" stroke-linejoin="round"/>
<path d="M1669.0,475.7 L1670.5,475.7 L1672.0,475.7 L1673.5,475.6 L1675.0,475.6 L1676.5,475.5 L1678.0,475.5 L1679.5,475.4 L1681.0,475.3 L1682.5,475.2 L1684.0,475.0 L1685.5,474.8 L1687.0,474.5 L1688.5,474.0 L1690.0,473.3 L1691.5,472.2 L1693.0,470.7 L1694.5,468.5 L1696.0,465.6 L1697.5,461.8 L1699.0,456.9 L1700.5,451.1 L1702.0,444.3 L1703.5,436.8 L1705.0,428.9 L1706.5,421.2 L1708.0,414.3 L1709.5,408.8 L1711.0,405.2 L1712.5,404.0 L1714.0,405.2 L1715.5,408.8 L1717.0,414.3 L1718.5,421.2 L1720.0,428.9 L1721.5,436.8 L1723.0,444.3 L1724.5,451.1 L1726.0,456.9 L1727.5,461.8 L1729.0,465.6 L1730.5,468.5 L1732.0,470.7 L1733.5,472.2 L1735.0,473.3 L1736.5,474.0 L1738.0,474.5 L1739.5,474.8 L1741.0,475.0 L1742.5,475.2 L1744.0,475.3 L1745.5,475.4 L1747.0,475.5 L1748.5,475.5 L1750.0,475.6 L1751.5,475.6 L1753.0,475.7 L1754.5,475.7 L1756.0,475.7 L1757.5,475.8 L1759.0,475.8 L1760.5,475.8 L1762.0,475.8 L1763.5,475.8 L1765.0,475.8 L1766.5,475.8" fill="none" stroke="#184d7c" stroke-width="6.3" stroke-linejoin="round"/>
<path d="M1669.0,475.6 L1670.5,475.4 L1672.0,475.2 L1673.5,475.0 L1675.0,474.7 L1676.5,474.3 L1678.0,473.8 L1679.5,473.2 L1681.0,472.3 L1682.5,471.1 L1684.0,469.4 L1685.5,467.2 L1687.0,464.2 L1688.5,460.3 L1690.0,455.2 L1691.5,448.8 L1693.0,440.9 L1694.5,431.2 L1696.0,419.8 L1697.5,406.7 L1699.0,392.1 L1700.5,376.2 L1702.0,359.5 L1703.5,342.7 L1705.0,326.4 L1706.5,311.4 L1708.0,298.7 L1709.5,288.9 L1711.0,282.8 L1712.5,280.7 L1714.0,282.8 L1715.5,288.9 L1717.0,298.7 L1718.5,311.4 L1720.0,326.4 L1721.5,342.7 L1723.0,359.5 L1724.5,376.2 L1726.0,392.1 L1727.5,406.7 L1729.0,419.8 L1730.5,431.2 L1732.0,440.9 L1733.5,448.8 L1735.0,455.2 L1736.5,460.3 L1738.0,464.2 L1739.5,467.2 L1741.0,469.4 L1742.5,471.1 L1744.0,472.3 L1745.5,473.2 L1747.0,473.8 L1748.5,474.3 L1750.0,474.7 L1751.5,475.0 L1753.0,475.2 L1754.5,475.4 L1756.0,475.6 L1757.5,475.7 L1759.0,475.8 L1760.5,475.8 L1762.0,475.8 L1763.5,475.8 L1765.0,475.8 L1766.5,475.8" fill="none" stroke="#a3131b" stroke-width="5.8" stroke-linejoin="round"/>
<path d="M1772.0,475.8 L1773.5,475.8 L1775.0,475.8 L1776.5,475.8 L1778.0,475.8 L1779.5,475.8 L1781.0,475.7 L1782.5,475.7 L1784.0,475.7 L1785.5,475.7 L1787.0,475.7 L1788.5,475.6 L1790.0,475.6 L1791.5,475.5 L1793.0,475.4 L1794.5,475.2 L1796.0,475.0 L1797.5,474.6 L1799.0,474.2 L1800.5,473.6 L1802.0,472.8 L1803.5,471.8 L1805.0,470.8 L1806.5,469.5 L1808.0,468.3 L1809.5,467.1 L1811.0,466.0 L1812.5,465.1 L1814.0,464.5 L1815.5,464.3 L1817.0,464.5 L1818.5,465.1 L1820.0,466.0 L1821.5,467.1 L1823.0,468.3 L1824.5,469.5 L1826.0,470.8 L1827.5,471.8 L1829.0,472.8 L1830.5,473.6 L1832.0,474.2 L1833.5,474.6 L1835.0,475.0 L1836.5,475.2 L1838.0,475.4 L1839.5,475.5 L1841.0,475.6 L1842.5,475.6 L1844.0,475.7 L1845.5,475.7 L1847.0,475.7 L1848.5,475.7 L1850.0,475.7 L1851.5,475.8 L1853.0,475.8 L1854.5,475.8 L1856.0,475.8 L1857.5,475.8 L1859.0,475.8 L1860.5,475.8 L1862.0,475.8 L1863.5,475.8 L1865.0,475.8 L1866.5,475.8 L1868.0,475.8 L1869.5,475.8" fill="none" stroke="#184d7c" stroke-width="6.3" stroke-linejoin="round"/>
<path d="M1772.0,475.6 L1773.5,475.4 L1775.0,475.2 L1776.5,475.0 L1778.0,474.7 L1779.5,474.3 L1781.0,473.8 L1782.5,473.2 L1784.0,472.3 L1785.5,471.1 L1787.0,469.4 L1788.5,467.2 L1790.0,464.2 L1791.5,460.3 L1793.0,455.2 L1794.5,448.8 L1796.0,440.9 L1797.5,431.2 L1799.0,419.8 L1800.5,406.7 L1802.0,392.1 L1803.5,376.2 L1805.0,359.5 L1806.5,342.7 L1808.0,326.4 L1809.5,311.4 L1811.0,298.7 L1812.5,288.9 L1814.0,282.8 L1815.5,280.7 L1817.0,282.8 L1818.5,288.9 L1820.0,298.7 L1821.5,311.4 L1823.0,326.4 L1824.5,342.7 L1826.0,359.5 L1827.5,376.2 L1829.0,392.1 L1830.5,406.7 L1832.0,419.8 L1833.5,431.2 L1835.0,440.9 L1836.5,448.8 L1838.0,455.2 L1839.5,460.3 L1841.0,464.2 L1842.5,467.2 L1844.0,469.4 L1845.5,471.1 L1847.0,472.3 L1848.5,473.2 L1850.0,473.8 L1851.5,474.3 L1853.0,474.7 L1854.5,475.0 L1856.0,475.2 L1857.5,475.4 L1859.0,475.6 L1860.5,475.7 L1862.0,475.8 L1863.5,475.8 L1865.0,475.8 L1866.5,475.8 L1868.0,475.8 L1869.5,475.8" fill="none" stroke="#a3131b" stroke-width="5.8" stroke-linejoin="round"/>
<rect x="1558.5" y="489" width="104" height="24.5" fill="#d9d9d9" stroke="#000" stroke-width="5"/>
<rect x="1662.5" y="489" width="102" height="24.5" fill="#8e8e8e" stroke="#000" stroke-width="5"/>
<rect x="1764.5" y="489" width="104" height="24.5" fill="#555555" stroke="#000" stroke-width="5"/>
<text x="1573" y="545.3" font-size="31.2" text-anchor="middle" fill="#000" >0</text>
<text x="1669" y="545.3" font-size="31.2" text-anchor="middle" fill="#000" >2</text>
<text x="1773.7" y="545.3" font-size="31.2" text-anchor="middle" fill="#000" >5</text>
<text x="1869" y="545.3" font-size="31.2" text-anchor="middle" fill="#000" >10</text>
<text x="1559.5" y="596" font-size="38.3">Reactivity ratio, <tspan font-style="italic">R</tspan></text>
<text x="1852.5" y="338.7" font-size="31.3" text-anchor="start" fill="#a3131b" >Heavy</text>
<text x="1852.5" y="376.2" font-size="31.3" text-anchor="start" fill="#184d7c" >Light</text>
<path d="M150,774 L150,1255.2 L995,1255.2" fill="none" stroke="#000" stroke-width="4.5"/>
<path d="M136.5,776.5 L150,776.5" stroke="#000" stroke-width="4.5"/>
<text x="128" y="789.1" font-size="36" text-anchor="end" fill="#000" >800</text>
<path d="M136.5,896.5 L150,896.5" stroke="#000" stroke-width="4.5"/>
<text x="128" y="909.1" font-size="36" text-anchor="end" fill="#000" >600</text>
<path d="M136.5,1016.5 L150,1016.5" stroke="#000" stroke-width="4.5"/>
<text x="128" y="1029.1" font-size="36" text-anchor="end" fill="#000" >400</text>
<path d="M136.5,1136 L150,1136" stroke="#000" stroke-width="4.5"/>
<text x="128" y="1148.6" font-size="36" text-anchor="end" fill="#000" >200</text>
<path d="M136.5,1255.5 L150,1255.5" stroke="#000" stroke-width="4.5"/>
<text x="128" y="1268.1" font-size="36" text-anchor="end" fill="#000" >0</text>
<path d="M359.5,1255.5 L359.5,1267" stroke="#000" stroke-width="4.5"/>
<path d="M886.5,1255.5 L886.5,1267" stroke="#000" stroke-width="4.5"/>
<text x="360" y="1306" font-size="36" text-anchor="middle" fill="#000" >Hacker et al.</text>
<text x="886.5" y="1306" font-size="36" text-anchor="middle" fill="#000" >This work</text>
<text transform="translate(54,1014) rotate(-90)" font-size="39" text-anchor="middle">No. of lysines</text>
<rect x="169.4" y="779.6" width="80.4" height="39.8" fill="#888888"/>
<rect x="169.4" y="825.2" width="80.4" height="39.8" fill="#114a7b"/>
<text x="261" y="811.5" font-size="36" text-anchor="start" fill="#000" >other</text>
<text x="261" y="856" font-size="36" text-anchor="start" fill="#000" >extracellular</text>
<rect x="320" y="1245.5" width="80.5" height="8" fill="#888888"/>
<rect x="320" y="1251.5" width="80.5" height="2" fill="#114a7b"/>
<rect x="846.5" y="824" width="80" height="40" fill="#888888"/>
<rect x="846.5" y="864" width="80" height="389.5" fill="#114a7b"/>
<path d="M355.2,1129.6 L355.20,1031.40 A98.2,98.2 0 0 1 388.79,1221.88 Z" fill="#114a7b" stroke="#fff" stroke-width="1.2" stroke-linejoin="round"/>
<path d="M355.2,1129.6 L388.79,1221.88 A98.2,98.2 0 1 1 355.20,1031.40 Z" fill="#888888" stroke="#fff" stroke-width="1.2" stroke-linejoin="round"/>
<text x="400" y="1084" font-size="35" text-anchor="middle" fill="#fff" >8</text>
<text x="404.5" y="1128.2" font-size="35" text-anchor="middle" fill="#fff" >(44%)</text>
<text x="316.2" y="1133.7" font-size="35" text-anchor="middle" fill="#fff" >10</text>
<text x="316" y="1178.5" font-size="35" text-anchor="middle" fill="#fff" >(56%)</text>
<path d="M675.4,947.6 L675.40,792.20 A155.4,155.4 0 1 1 594.20,815.10 Z" fill="#114a7b" stroke="#fff" stroke-width="1.2" stroke-linejoin="round"/>
<path d="M675.4,947.6 L594.20,815.10 A155.4,155.4 0 0 1 675.40,792.20 Z" fill="#888888" stroke="#fff" stroke-width="1.2" stroke-linejoin="round"/>
<text x="681.5" y="988.5" font-size="35.7" text-anchor="middle" fill="#fff" >656 (91%)</text>
<text x="548" y="803" font-size="35" text-anchor="middle" fill="#595959" >62 (9%)</text>
<path d="M1148,790 L1148,1251.5 L1939.5,1251.5" fill="none" stroke="#000" stroke-width="5"/>
<path d="M1141.5,792.5 L1148,792.5" stroke="#000" stroke-width="5"/>
<text x="1138.5" y="804.1" font-size="36" text-anchor="end" fill="#000" >20</text>
<path d="M1141.5,884 L1148,884" stroke="#000" stroke-width="5"/>
<text x="1138.5" y="895.6" font-size="36" text-anchor="end" fill="#000" >16</text>
<path d="M1141.5,976 L1148,976" stroke="#000" stroke-width="5"/>
<text x="1138.5" y="987.6" font-size="36" text-anchor="end" fill="#000" >12</text>
<path d="M1141.5,1067.8 L1148,1067.8" stroke="#000" stroke-width="5"/>
<text x="1138.5" y="1079.3999999999999" font-size="36" text-anchor="end" fill="#000" >8</text>
<path d="M1141.5,1159.7 L1148,1159.7" stroke="#000" stroke-width="5"/>
<text x="1138.5" y="1171.3" font-size="36" text-anchor="end" fill="#000" >4</text>
<path d="M1141.5,1251.5 L1148,1251.5" stroke="#000" stroke-width="5"/>
<text x="1138.5" y="1263.1" font-size="36" text-anchor="end" fill="#000" >0</text>
<path d="M1148,1251.5 L1148,1262.5" stroke="#000" stroke-width="5"/>
<text x="1148" y="1298.5" font-size="36" text-anchor="middle" fill="#000" >0</text>
<path d="M1410,1251.5 L1410,1262.5" stroke="#000" stroke-width="5"/>
<text x="1410" y="1298.5" font-size="36" text-anchor="middle" fill="#000" >1000</text>
<path d="M1673.3,1251.5 L1673.3,1262.5" stroke="#000" stroke-width="5"/>
<text x="1673.3" y="1298.5" font-size="36" text-anchor="middle" fill="#000" >2000</text>
<path d="M1937,1251.5 L1937,1262.5" stroke="#000" stroke-width="5"/>
<text x="1937" y="1298.5" font-size="36" text-anchor="middle" fill="#000" >3000</text>
<text x="1532" y="1343" font-size="39.5" text-anchor="middle" fill="#000" >Lysine no.</text>
<text transform="translate(1072.5,1013.6) rotate(-90)" font-size="39.5" letter-spacing="0.8" text-anchor="middle">Reactivity ratio, <tspan font-style="italic">R</tspan></text>
<path d="M1146.8,1249.3 C1148.8,1247.4 1147.0,1246.5 1154.3,1242.3 C1161.6,1238.0 1157.1,1238.4 1174.2,1233.4 C1191.4,1228.5 1183.1,1229.0 1218.5,1223.7 C1253.9,1218.4 1261.0,1218.6 1307.0,1213.5 C1353.0,1208.4 1343.8,1210.0 1391.0,1204.7 C1438.2,1199.3 1435.6,1199.8 1484.0,1193.6 C1532.3,1187.3 1531.1,1188.3 1572.4,1181.2 C1613.7,1174.1 1609.3,1174.0 1638.8,1167.0 C1668.3,1160.1 1661.8,1162.2 1683.0,1155.1 C1704.3,1148.0 1700.7,1148.5 1718.4,1140.5 C1736.1,1132.5 1735.3,1133.3 1749.4,1125.0 C1763.6,1116.8 1760.9,1117.8 1771.5,1109.5 C1782.2,1101.3 1781.0,1102.3 1789.2,1094.0 C1797.5,1085.8 1796.0,1087.4 1802.5,1078.6 C1809.0,1069.7 1808.7,1070.3 1813.6,1060.9 C1818.4,1051.4 1817.1,1053.8 1820.6,1043.2 C1824.2,1032.5 1824.0,1032.8 1826.8,1021.0 C1829.7,1009.2 1829.1,1012.5 1831.3,998.9 C1833.4,985.3 1833.9,977.8 1834.8,970.2" fill="none" stroke="#888888" stroke-width="13" stroke-linecap="round" stroke-linejoin="round"/>
<path d="M1836.3,961.5 L1838,947 M1838.3,933 L1840,914.5 M1840.5,891.4 L1840.5,891.5 M1841,872 L1842,852 M1842.3,827.4 L1842.3,827.5" fill="none" stroke="#888888" stroke-width="13.2" stroke-linecap="round"/>
<rect x="1147.5" y="1196.5" width="242.5" height="53.5" fill="none" stroke="#a3131b" stroke-width="4.5"/>
<path d="M1256.5,829 L1256.5,1105.8 L1647,1105.8" fill="none" stroke="#000" stroke-width="6"/>
<path d="M1251,831 L1256.5,831" stroke="#000" stroke-width="6"/>
<text x="1246.5" y="841.8" font-size="33.5" text-anchor="end" fill="#000" >2.0</text>
<path d="M1251,899.5 L1256.5,899.5" stroke="#000" stroke-width="6"/>
<text x="1246.5" y="910.3" font-size="33.5" text-anchor="end" fill="#000" >1.5</text>
<path d="M1251,967.8 L1256.5,967.8" stroke="#000" stroke-width="6"/>
<text x="1246.5" y="978.5999999999999" font-size="33.5" text-anchor="end" fill="#000" >1.0</text>
<path d="M1251,1036.3 L1256.5,1036.3" stroke="#000" stroke-width="6"/>
<text x="1246.5" y="1047.1" font-size="33.5" text-anchor="end" fill="#000" >0.5</text>
<path d="M1251,1105.8 L1256.5,1105.8" stroke="#000" stroke-width="6"/>
<text x="1246.5" y="1116.6" font-size="33.5" text-anchor="end" fill="#000" >0.0</text>
<path d="M1256.5,1105.8 L1256.5,1111" stroke="#000" stroke-width="6"/>
<text x="1256.5" y="1141" font-size="33.5" text-anchor="middle" fill="#000" >0</text>
<path d="M1354.3,1105.8 L1354.3,1111" stroke="#000" stroke-width="6"/>
<text x="1354.3" y="1141" font-size="33.5" text-anchor="middle" fill="#000" >250</text>
<path d="M1450.8,1105.8 L1450.8,1111" stroke="#000" stroke-width="6"/>
<text x="1450.8" y="1141" font-size="33.5" text-anchor="middle" fill="#000" >500</text>
<path d="M1547.3,1105.8 L1547.3,1111" stroke="#000" stroke-width="6"/>
<text x="1547.3" y="1141" font-size="33.5" text-anchor="middle" fill="#000" >750</text>
<path d="M1644,1105.8 L1644,1111" stroke="#000" stroke-width="6"/>
<text x="1644" y="1141" font-size="33.5" text-anchor="middle" fill="#000" >1000</text>
<path d="M1258.3,1102.8 C1258.6,1098.8 1258.6,1095.7 1259.4,1087.9 C1260.3,1080.0 1259.8,1081.9 1261.5,1073.5 C1263.2,1065.0 1262.3,1065.8 1265.8,1056.2 C1269.2,1046.6 1268.1,1048.1 1274.4,1037.5 C1280.7,1026.9 1281.1,1025.9 1289.4,1016.5 C1297.7,1007.0 1295.9,1010.5 1305.5,1002.1 C1315.1,993.6 1312.5,995.4 1325.4,984.8 C1338.2,974.2 1338.5,973.1 1353.6,962.3 C1368.7,951.6 1366.9,954.5 1382.1,944.5 C1397.3,934.5 1395.4,933.8 1410.6,924.9 C1425.8,916.0 1423.8,918.2 1439.1,911.1 C1454.3,904.0 1452.5,905.5 1467.9,898.2 C1483.2,890.9 1481.3,891.1 1496.6,883.8 C1512.0,876.5 1510.1,877.7 1525.4,870.8 C1540.8,863.9 1538.9,865.0 1554.2,857.9 C1569.6,850.7 1569.9,850.2 1583.0,844.0 C1596.0,837.9 1594.3,837.9 1603.1,834.8 C1612.0,831.8 1612.6,833.1 1616.1,832.5" fill="none" stroke="#144a7c" stroke-width="11" stroke-linejoin="round"/>
<path d="M1334.9,889.8 L1269.8,1036" stroke="#8c8c8c" stroke-width="5.6"/>
<path d="M1381.5,1013 L1292.8,1019.6" stroke="#8c8c8c" stroke-width="5.6"/>
<path d="M1332.6,1063.4 L1263.5,1082.7" stroke="#8c8c8c" stroke-width="5.6"/>
<path d="M1519.7,941 L1469.3,901.3" stroke="#8c8c8c" stroke-width="5.6"/>
<path d="M1598.8,885.8 L1557,857.6" stroke="#8c8c8c" stroke-width="5.6"/>
<text x="1295" y="867.3" font-size="35.6" fill="#262626">ROBO1<tspan font-size="24.3" dy="-10.5" dx="1" fill="#4f8fdc">K224</tspan></text>
<text x="1528.3" y="917.4" font-size="35.6" fill="#262626">ROR2<tspan font-size="24.3" dy="-10.5" dx="1" fill="#4f8fdc">K382</tspan></text>
<text x="1452" y="970.4" font-size="35.6" fill="#262626">PTPRF<tspan font-size="24.3" dy="-10.5" dx="1" fill="#4f8fdc">K61</tspan></text>
<text x="1385.7" y="1018.8" font-size="35.6" fill="#262626">CD298<tspan font-size="24.3" dy="-10.5" dx="1" fill="#4f8fdc">K220</tspan></text>
<text x="1338" y="1068.3" font-size="35.6" fill="#262626">CD105<tspan font-size="24.3" dy="-10.5" dx="1" fill="#4f8fdc">K285</tspan></text>
<path d="M147.5,1465 L147.5,2001 L983.5,2001" fill="none" stroke="#000" stroke-width="4"/>
<path d="M136.5,1544 L147.5,1544" stroke="#000" stroke-width="4"/>
<text x="128" y="1556.6" font-size="36" text-anchor="end" fill="#000" >300</text>
<path d="M136.5,1697 L147.5,1697" stroke="#000" stroke-width="4"/>
<text x="128" y="1709.6" font-size="36" text-anchor="end" fill="#000" >200</text>
<path d="M136.5,1849.4 L147.5,1849.4" stroke="#000" stroke-width="4"/>
<text x="128" y="1862.0" font-size="36" text-anchor="end" fill="#000" >100</text>
<path d="M136.5,2001 L147.5,2001" stroke="#000" stroke-width="4"/>
<text x="128" y="2013.6" font-size="36" text-anchor="end" fill="#000" >0</text>
<rect x="212.2" y="1526.3" width="81.0" height="472.7" fill="#a3131b"/>
<rect x="309.2" y="1783.8" width="79.8" height="215.2" fill="#114a7b"/>
<rect x="462.7" y="1849.4" width="81.0" height="149.6" fill="#a3131b"/>
<rect x="558.6" y="1846.7" width="81.1" height="152.3" fill="#114a7b"/>
<rect x="755.3" y="1858.4" width="80.5" height="140.6" fill="#a3131b"/>
<rect x="851.3" y="1604.2" width="79.9" height="394.8" fill="#114a7b"/>
<path d="M286.8,2001 L286.8,2013" stroke="#000" stroke-width="4"/>
<text x="286.8" y="2049.5" font-size="35.5" text-anchor="middle" fill="#000" >1</text>
<path d="M565,2001 L565,2013" stroke="#000" stroke-width="4"/>
<text x="565" y="2049.5" font-size="35.5" text-anchor="middle" fill="#000" >2</text>
<path d="M843.3,2001 L843.3,2013" stroke="#000" stroke-width="4"/>
<text x="843.3" y="2049.5" font-size="35.5" text-anchor="middle" fill="#000" >&gt;=3</text>
<text x="565" y="2092" font-size="38" text-anchor="middle" xml:space="preserve">No. of  lysines</text>
<text transform="translate(51,1734.5) rotate(-90)" font-size="38.3" text-anchor="middle">No. of proteins</text>
<rect x="315.6" y="1460" width="73" height="37.5" fill="#a3131b"/>
<rect x="315.6" y="1505" width="73" height="37" fill="#114a7b"/>
<text x="398.7" y="1489" font-size="32.7" text-anchor="start" fill="#000" >Hyper-reactive lysines per protein</text>
<text x="398.7" y="1533.3" font-size="32.7" text-anchor="start" fill="#000" >Quantified lysines per protein</text>
<path d="M1466.4,1734.2 L1459.91,1527.80 A206.5,206.5 0 0 1 1666.94,1684.94 Z" fill="#f97070" stroke="#f97070" stroke-width="0.6" stroke-linejoin="round"/>
<path d="M1466.4,1734.2 L1666.94,1684.94 A206.5,206.5 0 0 1 1670.79,1704.75 Z" fill="#6a77a8" stroke="#6a77a8" stroke-width="0.6" stroke-linejoin="round"/>
<path d="M1466.4,1734.2 L1670.79,1704.75 A206.5,206.5 0 0 1 1642.85,1841.48 Z" fill="#114a7b" stroke="#114a7b" stroke-width="0.6" stroke-linejoin="round"/>
<path d="M1466.4,1734.2 L1642.85,1841.48 A206.5,206.5 0 0 1 1623.42,1868.31 Z" fill="#a9afd8" stroke="#a9afd8" stroke-width="0.6" stroke-linejoin="round"/>
<path d="M1466.4,1734.2 L1623.42,1868.31 A206.5,206.5 0 0 1 1360.04,1911.21 Z" fill="#a3131b" stroke="#a3131b" stroke-width="0.6" stroke-linejoin="round"/>
<path d="M1466.4,1734.2 L1360.04,1911.21 A206.5,206.5 0 0 1 1298.70,1854.70 Z" fill="#7dc3d6" stroke="#7dc3d6" stroke-width="0.6" stroke-linejoin="round"/>
<path d="M1466.4,1734.2 L1298.70,1854.70 A206.5,206.5 0 0 1 1285.97,1834.63 Z" fill="#2db5a0" stroke="#2db5a0" stroke-width="0.6" stroke-linejoin="round"/>
<path d="M1466.4,1734.2 L1285.97,1834.63 A206.5,206.5 0 0 1 1459.91,1527.80 Z" fill="#f8ad8c" stroke="#f8ad8c" stroke-width="0.6" stroke-linejoin="round"/>
<path d="M1666.3,1692 L1686,1678.8" stroke="#333" stroke-width="5"/>
<path d="M1277,1831.8 L1296.4,1842.4" stroke="#333" stroke-width="5"/>
<text x="1669" y="1515.8" font-size="36.5" text-anchor="middle" fill="#000" >cell adhesion</text>
<text x="1669" y="1559.3" font-size="36.5" text-anchor="middle" fill="#000" >molecule</text>
<text x="1237" y="1610.3" font-size="36.5" text-anchor="middle" fill="#000" >others</text>
<text x="1802" y="1646.3" font-size="36.5" text-anchor="middle" fill="#000" >membrane</text>
<text x="1802" y="1690.3" font-size="36.5" text-anchor="middle" fill="#000" >traffic protein</text>
<text x="1835" y="1778.3" font-size="36.5" text-anchor="middle" fill="#000" >protein modifying</text>
<text x="1830" y="1821.8" font-size="36.5" text-anchor="middle" fill="#000" >enzyme</text>
<text x="1766" y="1880.3" font-size="36.5" text-anchor="middle" fill="#000" >transfer/carrier</text>
<text x="1766" y="1923.3" font-size="36.5" text-anchor="middle" fill="#000" >protein</text>
<text x="1373" y="1984.3" font-size="36.5" text-anchor="start" fill="#000" >transmembrane</text>
<text x="1373" y="2028.3" font-size="36.5" text-anchor="start" fill="#000" >signal receptor</text>
<text x="1139.7" y="1792.3" font-size="36.5" text-anchor="middle" fill="#000" >intercellular</text>
<text x="1139.7" y="1835.7" font-size="36.5" text-anchor="middle" fill="#000" >signal molecule</text>
<text x="1168" y="1914.0" font-size="36.5" text-anchor="middle" fill="#000" >defense/immunity</text>
<text x="1167" y="1957.7" font-size="36.5" text-anchor="middle" fill="#000" >protein</text>
</svg>
</body></html>
